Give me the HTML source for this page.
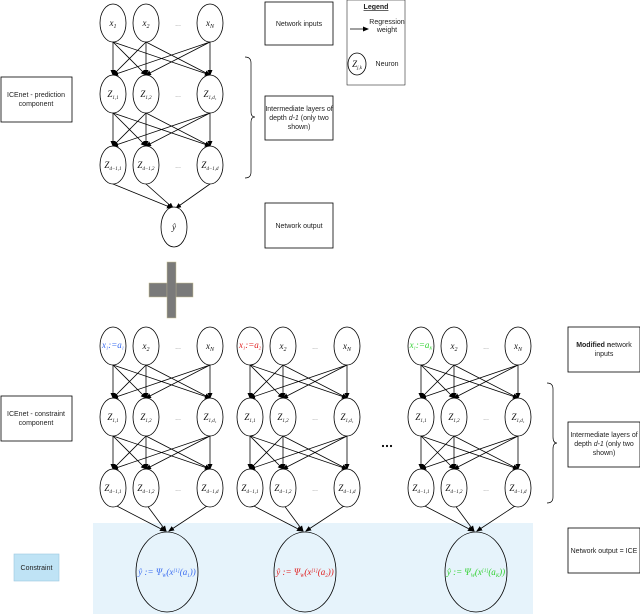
<!DOCTYPE html>
<html><head><meta charset="utf-8"><style>
body{margin:0;background:#fff}
svg{display:block}
text{font-family:"Liberation Sans",sans-serif;font-size:7px;fill:#222}
.m{font-family:"Liberation Serif",serif;font-style:italic;font-size:9px;fill:#111}
.d{fill:#888;font-size:7px}
</style></head><body>
<svg width="640" height="614" viewBox="0 0 640 614" xmlns="http://www.w3.org/2000/svg">
<defs>
<marker id="a" markerWidth="6" markerHeight="6" refX="5" refY="3" orient="auto" markerUnits="userSpaceOnUse"><path d="M0,0.5 L6,3 L0,5.5z" fill="#000"/></marker>
<g id="net" stroke="#000" stroke-width="0.8" fill="none">
<g marker-end="url(#a)">
<line x1="113" y1="19" x2="113" y2="52"/><line x1="113" y1="19" x2="146" y2="52"/><line x1="113" y1="19" x2="210" y2="52"/>
<line x1="146" y1="19" x2="113" y2="52"/><line x1="146" y1="19" x2="146" y2="52"/><line x1="146" y1="19" x2="210" y2="52"/>
<line x1="210" y1="19" x2="113" y2="52"/><line x1="210" y1="19" x2="146" y2="52"/><line x1="210" y1="19" x2="210" y2="52"/>
<line x1="113" y1="90" x2="113" y2="123"/><line x1="113" y1="90" x2="146" y2="123"/><line x1="113" y1="90" x2="210" y2="123"/>
<line x1="146" y1="90" x2="113" y2="123"/><line x1="146" y1="90" x2="146" y2="123"/><line x1="146" y1="90" x2="210" y2="123"/>
<line x1="210" y1="90" x2="113" y2="123"/><line x1="210" y1="90" x2="146" y2="123"/><line x1="210" y1="90" x2="210" y2="123"/>
</g>
<ellipse cx="113" cy="0" rx="13" ry="19" fill="#fff"/><ellipse cx="146" cy="0" rx="13" ry="19" fill="#fff"/><ellipse cx="210" cy="0" rx="13" ry="19" fill="#fff"/>
<ellipse cx="113" cy="71" rx="13" ry="19" fill="#fff"/><ellipse cx="146" cy="71" rx="13" ry="19" fill="#fff"/><ellipse cx="210" cy="71" rx="13" ry="19" fill="#fff"/>
<ellipse cx="113" cy="142" rx="13" ry="19" fill="#fff"/><ellipse cx="146" cy="142" rx="13" ry="19" fill="#fff"/><ellipse cx="210" cy="142" rx="13" ry="19" fill="#fff"/>
</g>
<g id="lab">
<text class="m" x="146" y="3" text-anchor="middle">x<tspan font-size="6" dy="2">2</tspan></text>
<text class="m" x="210" y="3" text-anchor="middle">x<tspan font-size="6" dy="2">N</tspan></text>
<text class="m" x="113" y="74" text-anchor="middle">Z<tspan font-size="5" dy="2">1,1</tspan></text>
<text class="m" x="146" y="74" text-anchor="middle">Z<tspan font-size="5" dy="2">1,2</tspan></text>
<text class="m" x="210" y="74" text-anchor="middle">Z<tspan font-size="5" dy="2">1,d₁</tspan></text>
<text class="m" x="113" y="145" text-anchor="middle">Z<tspan font-size="5" dy="2">d−1,1</tspan></text>
<text class="m" x="146" y="145" text-anchor="middle">Z<tspan font-size="5" dy="2">d−1,2</tspan></text>
<text class="m" x="210" y="145" text-anchor="middle">Z<tspan font-size="5" dy="2">d−1,d</tspan></text>
<text class="d" x="178" y="3" text-anchor="middle">...</text>
<text class="d" x="178" y="74" text-anchor="middle">...</text>
<text class="d" x="178" y="145" text-anchor="middle">...</text>
</g>
</defs>

<!-- top network -->
<g transform="translate(0,23)">
<g stroke="#000" stroke-width="0.8" marker-end="url(#a)">
<line x1="113" y1="161" x2="172" y2="185"/><line x1="146" y1="161" x2="173" y2="185"/><line x1="210" y1="161" x2="176" y2="185"/>
</g>
<use href="#net"/><use href="#lab"/>
<text class="m" x="113" y="3" text-anchor="middle">x<tspan font-size="6" dy="2">1</tspan></text>
</g>
<ellipse cx="174" cy="227" rx="13" ry="20" fill="#fff" stroke="#000" stroke-width="0.8"/>
<text class="m" x="174" y="230" text-anchor="middle">ŷ</text>

<rect x="265" y="2" width="68" height="43" fill="none" stroke="#000" stroke-width="0.8"/>
<text x="299" y="26" text-anchor="middle">Network inputs</text>
<rect x="347" y="0" width="58" height="85" fill="none" stroke="#000" stroke-width="0.5"/>
<text x="376" y="9" text-anchor="middle" font-size="6" font-weight="bold" text-decoration="underline">Legend</text>
<line x1="350" y1="29" x2="368" y2="29" stroke="#000" stroke-width="0.8" marker-end="url(#a)"/>
<text x="387" y="24" text-anchor="middle" font-size="6">Regression</text>
<text x="387" y="32" text-anchor="middle" font-size="6">weight</text>
<ellipse cx="357" cy="64" rx="9" ry="11" fill="none" stroke="#000" stroke-width="0.8"/>
<text class="m" x="357" y="67" text-anchor="middle" font-size="8">Z<tspan font-size="5" dy="2">j,k</tspan></text>
<text x="387" y="66" text-anchor="middle" font-size="6">Neuron</text>
<rect x="1" y="77" width="71" height="45" fill="none" stroke="#000" stroke-width="0.8"/>
<text x="36" y="97" text-anchor="middle">ICEnet - prediction</text>
<text x="36" y="106" text-anchor="middle">component</text>
<path d="M245,57 Q251,57 251,63 L251,112 Q251,117 255,117 Q251,117 251,122 L251,172 Q251,178 245,178" fill="none" stroke="#000" stroke-width="0.7"/>
<rect x="265" y="96" width="68" height="44" fill="none" stroke="#000" stroke-width="0.8"/>
<text x="299" y="111" text-anchor="middle">Intermediate layers of</text>
<text x="299" y="120" text-anchor="middle">depth <tspan font-style="italic">d-1</tspan> (only two</text>
<text x="299" y="129" text-anchor="middle">shown)</text>
<rect x="265" y="203" width="68" height="45" fill="none" stroke="#000" stroke-width="0.8"/>
<text x="299" y="228" text-anchor="middle">Network output</text>

<!-- plus -->
<rect x="149" y="283" width="44" height="14" fill="#7a7a7a" stroke="#c8c090" stroke-width="0.5"/>
<rect x="167" y="262" width="9" height="56" fill="#7a7a7a" stroke="#c8c090" stroke-width="0.5"/>
<rect x="167.3" y="283.3" width="8.4" height="13.4" fill="#7a7a7a"/>

<!-- blue band -->
<rect x="93" y="523" width="440" height="91" fill="#e6f3fb"/>

<!-- bottom networks -->
<g transform="translate(0,346)">
<g stroke="#000" stroke-width="0.8" marker-end="url(#a)">
<line x1="113" y1="158" x2="165" y2="185"/><line x1="146" y1="158" x2="166" y2="185"/><line x1="210" y1="158" x2="169" y2="185"/>
</g>
<use href="#net"/><use href="#lab"/>
<text class="m" x="113" y="2" text-anchor="middle" style="fill:#3a6cf0" font-size="6.5">x<tspan font-size="4.5" dy="1.5">1</tspan><tspan dy="-1.5">:=a</tspan><tspan font-size="4.5" dy="1.5">1</tspan></text>
</g>
<g transform="translate(137,346)">
<g stroke="#000" stroke-width="0.8" marker-end="url(#a)">
<line x1="113" y1="158" x2="165" y2="185"/><line x1="146" y1="158" x2="166" y2="185"/><line x1="210" y1="158" x2="169" y2="185"/>
</g>
<use href="#net"/><use href="#lab"/>
<text class="m" x="113" y="2" text-anchor="middle" style="fill:#e02020" font-size="6.5">x<tspan font-size="4.5" dy="1.5">1</tspan><tspan dy="-1.5">:=a</tspan><tspan font-size="4.5" dy="1.5">2</tspan></text>
</g>
<g transform="translate(308,346)">
<g stroke="#000" stroke-width="0.8" marker-end="url(#a)">
<line x1="113" y1="158" x2="165" y2="185"/><line x1="146" y1="158" x2="166" y2="185"/><line x1="210" y1="158" x2="169" y2="185"/>
</g>
<use href="#net"/><use href="#lab"/>
<text class="m" x="113" y="2" text-anchor="middle" style="fill:#30d030" font-size="6.5">x<tspan font-size="4.5" dy="1.5">1</tspan><tspan dy="-1.5">:=a</tspan><tspan font-size="4.5" dy="1.5">K</tspan></text>
</g>
<g fill="none" stroke="#000" stroke-width="0.8">
<ellipse cx="167" cy="572" rx="31" ry="40"/><ellipse cx="305" cy="572" rx="31" ry="40"/><ellipse cx="476" cy="572" rx="31" ry="40"/>
</g>
<text class="m" x="167" y="575" text-anchor="middle" font-size="7.5" style="fill:#3a6cf0">ŷ := Ψ<tspan font-size="5" dy="2">W</tspan><tspan dy="-2">(x</tspan><tspan font-size="5" dy="-3">[1]</tspan><tspan dy="3">(a</tspan><tspan font-size="5" dy="2">1</tspan><tspan dy="-2">))</tspan></text>
<text class="m" x="305" y="575" text-anchor="middle" font-size="7.5" style="fill:#e02020">ŷ := Ψ<tspan font-size="5" dy="2">W</tspan><tspan dy="-2">(x</tspan><tspan font-size="5" dy="-3">[1]</tspan><tspan dy="3">(a</tspan><tspan font-size="5" dy="2">2</tspan><tspan dy="-2">))</tspan></text>
<text class="m" x="476" y="575" text-anchor="middle" font-size="7.5" style="fill:#30d030">ŷ := Ψ<tspan font-size="5" dy="2">W</tspan><tspan dy="-2">(x</tspan><tspan font-size="5" dy="-3">[1]</tspan><tspan dy="3">(a</tspan><tspan font-size="5" dy="2">K</tspan><tspan dy="-2">))</tspan></text>
<circle cx="383" cy="446" r="1.1" fill="#000"/><circle cx="387" cy="446" r="1.1" fill="#000"/><circle cx="391" cy="446" r="1.1" fill="#000"/>

<rect x="1" y="396" width="71" height="45" fill="none" stroke="#000" stroke-width="0.8"/>
<text x="36" y="416" text-anchor="middle">ICEnet - constraint</text>
<text x="36" y="425" text-anchor="middle">component</text>
<rect x="14" y="554" width="45" height="27" fill="#bfe3f5" stroke="#9cc8e0" stroke-width="0.6"/>
<text x="36.5" y="570" text-anchor="middle">Constraint</text>
<rect x="568" y="327" width="72" height="45" fill="none" stroke="#000" stroke-width="0.8"/>
<text x="604" y="347" text-anchor="middle"><tspan font-weight="bold">Modified n</tspan>etwork</text>
<text x="604" y="356" text-anchor="middle">inputs</text>
<path d="M547,383 Q553,383 553,389 L553,437 Q553,443 557,443 Q553,443 553,449 L553,497 Q553,503 547,503" fill="none" stroke="#000" stroke-width="0.7"/>
<rect x="568" y="422" width="72" height="45" fill="none" stroke="#000" stroke-width="0.8"/>
<text x="604" y="437" text-anchor="middle">Intermediate layers of</text>
<text x="604" y="446" text-anchor="middle">depth <tspan font-style="italic">d-1</tspan> (only two</text>
<text x="604" y="455" text-anchor="middle">shown)</text>
<rect x="568" y="528" width="72" height="45" fill="none" stroke="#000" stroke-width="0.8"/>
<text x="604" y="553" text-anchor="middle">Network output = ICE</text>
</svg>
</body></html>
